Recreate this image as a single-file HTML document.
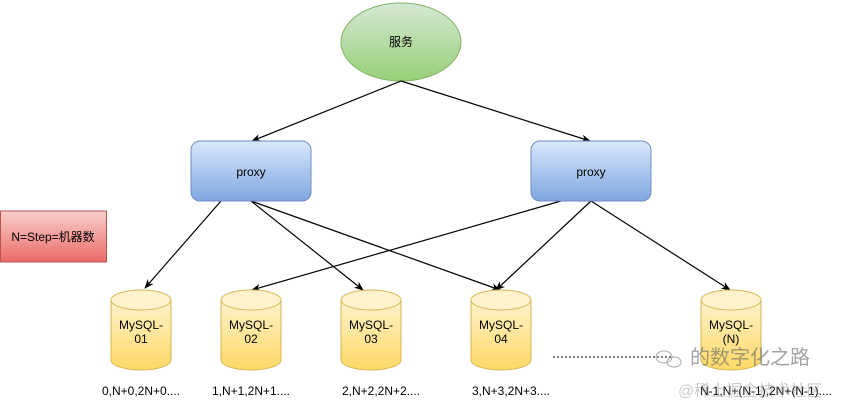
<!DOCTYPE html>
<html><head><meta charset="utf-8"><style>
html,body{margin:0;padding:0;background:#fff;width:843px;height:403px;overflow:hidden}
svg text{font-family:"Liberation Sans","Noto Sans CJK SC",sans-serif;font-size:12px;fill:#000}
</style></head><body>
<svg width="843" height="403" viewBox="0 0 843 403" xmlns="http://www.w3.org/2000/svg">
<defs>
<linearGradient id="g" x1="0" y1="0" x2="0" y2="1"><stop offset="0" stop-color="#d5e8d4"/><stop offset="1" stop-color="#97d077"/></linearGradient>
<linearGradient id="b" x1="0" y1="0" x2="0" y2="1"><stop offset="0" stop-color="#dae8fc"/><stop offset="1" stop-color="#7ea6e0"/></linearGradient>
<linearGradient id="r" x1="0" y1="0" x2="0" y2="1"><stop offset="0" stop-color="#f8cecc"/><stop offset="1" stop-color="#ea6b66"/></linearGradient>
<linearGradient id="y" x1="0" y1="0" x2="0" y2="1"><stop offset="0" stop-color="#fff2cc"/><stop offset="1" stop-color="#ffd966"/></linearGradient>
<marker id="a" viewBox="0 0 10 10" refX="9" refY="5" markerWidth="8" markerHeight="8" orient="auto"><path d="M0,1 L10,5 L0,9 L3,5 Z" fill="#000"/></marker>
<g id="cyl">
<path d="M-30,-30 L-30,30 A30,10 0 0 0 30,30 L30,-30" fill="url(#y)" stroke="#d6b656"/>
<ellipse cx="0" cy="-30" rx="30" ry="10" fill="#fff2cc" stroke="#d6b656"/>
</g>
</defs>
<ellipse cx="401" cy="42" rx="60" ry="39" fill="url(#g)" stroke="#82b366"/>
<text x="401" y="46" text-anchor="middle">服务</text>
<g stroke="#000" stroke-width="1.2" fill="none" marker-end="url(#a)">
<line x1="401" y1="81" x2="252" y2="141"/>
<line x1="401" y1="81" x2="590" y2="141"/>
<line x1="221" y1="201" x2="145" y2="288"/>
<line x1="251" y1="201" x2="363" y2="290"/>
<line x1="251" y1="201" x2="500" y2="290"/>
<line x1="561" y1="201" x2="252" y2="290"/>
<line x1="591" y1="201" x2="496" y2="290"/>
<line x1="591" y1="201" x2="730" y2="290"/>
</g>
<rect x="191" y="141" width="120" height="60" rx="9" fill="url(#b)" stroke="#6c8ebf"/>
<text x="251" y="176" text-anchor="middle">proxy</text>
<rect x="531" y="141" width="120" height="60" rx="9" fill="url(#b)" stroke="#6c8ebf"/>
<text x="591" y="176" text-anchor="middle">proxy</text>
<rect x="0.5" y="211" width="106" height="51" fill="url(#r)" stroke="#b85450"/>
<text x="53" y="241" text-anchor="middle">N=Step=机器数</text>
<use href="#cyl" x="141" y="330"/>
<use href="#cyl" x="251" y="330"/>
<use href="#cyl" x="371" y="330"/>
<use href="#cyl" x="501" y="330"/>
<use href="#cyl" x="731" y="330"/>
<g text-anchor="middle">
<text x="141" y="329">MySQL-</text><text x="141" y="343">01</text>
<text x="251" y="329">MySQL-</text><text x="251" y="343">02</text>
<text x="371" y="329">MySQL-</text><text x="371" y="343">03</text>
<text x="501" y="329">MySQL-</text><text x="501" y="343">04</text>
<text x="731" y="329">MySQL-</text><text x="731" y="343">(N)</text>
<text x="141" y="395">0,N+0,2N+0....</text>
<text x="251" y="395">1,N+1,2N+1....</text>
<text x="381" y="395">2,N+2,2N+2....</text>
<text x="511" y="395">3,N+3,2N+3....</text>
<text x="766" y="395">N-1,N+(N-1),2N+(N-1)....</text>
</g>
<line x1="553" y1="357" x2="676" y2="357" stroke="#000" stroke-dasharray="2,2"/>
<ellipse cx="664" cy="357" rx="8" ry="6" fill="none" stroke="#aaa"/>
<ellipse cx="674" cy="362" rx="7" ry="5" fill="none" stroke="#aaa"/>
<text x="690" y="364" style="font-size:20px;fill:#666;opacity:.6">的数字化之路</text>
<text x="678" y="396" style="font-size:16px;fill:#999;opacity:.5">@稀土掘金技术社区</text>
</svg>
</body></html>
